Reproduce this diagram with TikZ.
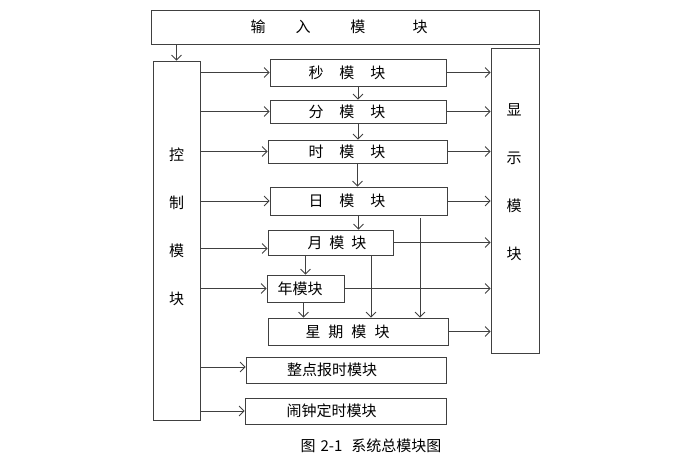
\documentclass[tikz,border=0pt]{standalone}
\usepackage{fontspec}
\setmainfont{Noto Sans CJK SC}
\usetikzlibrary{arrows.meta}

\begin{document}
\begin{tikzpicture}[x=1pt,y=-1pt,
    >={Straight Barb[length=5pt,width=10pt]},
    blk/.style={draw=black!75, line width=0.8pt, inner sep=0pt, font=\fontsize{15}{18}\selectfont},
    vtxt/.style={align=center, inner sep=0pt, font=\fontsize{15}{48}\selectfont},
    lnk/.style={draw=black!75, line width=0.8pt, ->}]
    \useasboundingbox (0,0) rectangle (699,462);
    % outer modules
    \node[blk, minimum width=388pt, minimum height=34pt] (inp) at (345,27) {输\hspace{30pt}入\hspace{40pt}模\hspace{47pt}块\hspace*{12pt}};
    \node[blk, minimum width=47pt, minimum height=359pt] (ctrl) at (176.5,240.5) {};
    \node[blk, minimum width=48pt, minimum height=305pt] (disp) at (515,200.5) {};
    \node[vtxt] (ctrltxt) at (176.5,227) {控\\制\\模\\块};
    \node[vtxt] (disptxt) at (514,182.5) {显\\示\\模\\块};
    % counters
    \node[blk, minimum width=176pt, minimum height=27pt] (sec) at (358,72.5) {秒\hspace{16pt}模\hspace{16pt}块\hspace*{22pt}};
    \node[blk, minimum width=176pt, minimum height=23pt] (mnt) at (358,111.5) {分\hspace{16pt}模\hspace{16pt}块\hspace*{22pt}};
    \node[blk, minimum width=179pt, minimum height=23pt] (hour) at (357.5,151.5) {时\hspace{16pt}模\hspace{16pt}块\hspace*{21pt}};
    \node[blk, minimum width=177pt, minimum height=28pt] (day) at (358.5,201) {日\hspace{16pt}模\hspace{16pt}块\hspace*{23pt}};
    \node[blk, minimum width=125pt, minimum height=25pt] (mon) at (330.5,242.5) {\hspace*{13pt}月\hspace{7pt}模\hspace{7pt}块};
    \node[blk, minimum width=77pt, minimum height=27pt] (year) at (305.5,288.5) {年模块\hspace*{11pt}};
    \node[blk, minimum width=180pt, minimum height=27pt] (week) at (358,331.5) {星\hspace{8pt}期\hspace{8pt}模\hspace{8pt}块\hspace*{21pt}};
    \node[blk, minimum width=200pt, minimum height=26pt] (chime) at (346,370) {整点报时模块\hspace*{28pt}};
    \node[blk, minimum width=201pt, minimum height=26pt] (alarm) at (345.5,411) {闹钟定时模块\hspace*{28pt}};
    \node[font=\fontsize{15}{18}\selectfont] (cap) at (371,446) {图\hspace{5pt}2-1\hspace{9pt}系统总模块图};
    % input to control
    \draw[lnk] (inp.south -| ctrl) -- (ctrl.north);
    % control to modules
    \draw[lnk] (ctrl.east |- sec) -- (sec.west);
    \draw[lnk] (ctrl.east |- mnt) -- (mnt.west);
    \draw[lnk] (ctrl.east |- hour) -- (hour.west);
    \draw[lnk] (ctrl.east |- day) -- (day.west);
    \draw[lnk] ([yshift=-6pt]mon.west -| ctrl.east) -- ([yshift=-6pt]mon.west);
    \draw[lnk] (ctrl.east |- year) -- (year.west);
    \draw[lnk] ([yshift=3pt]chime.west -| ctrl.east) -- ([yshift=3pt]chime.west);
    \draw[lnk] (ctrl.east |- alarm) -- (alarm.west);
    % modules to display
    \draw[lnk] (sec.east) -- (sec.east -| disp.west);
    \draw[lnk] (mnt.east) -- (mnt.east -| disp.west);
    \draw[lnk] (hour.east) -- (hour.east -| disp.west);
    \draw[lnk] (day.east) -- (day.east -| disp.west);
    \draw[lnk] (mon.east) -- (mon.east -| disp.west);
    \draw[lnk] (year.east) -- (year.east -| disp.west);
    \draw[lnk] (week.east) -- (week.east -| disp.west);
    % carries
    \draw[lnk] (sec.south) -- (sec.south |- mnt.north);
    \draw[lnk] (mnt.south) -- (mnt.south |- hour.north);
    \draw[lnk] (hour.south) -- (hour.south |- day.north);
    \draw[lnk] (day.south) -- (day.south |- mon.north);
    \draw[lnk] (year.north |- mon.south) -- (year.north);
    \draw[lnk] ([xshift=-2pt]year.south) -- ([xshift=-2pt]year.south |- week.north);
    \draw[lnk] ([xshift=40.5pt]mon.south) -- ([xshift=40.5pt]mon.south |- week.north);
    \draw[lnk] ([xshift=61.5pt,yshift=-3pt]day.south) -- ([xshift=61.5pt]day.south |- week.north);
\end{tikzpicture}
\end{document}
